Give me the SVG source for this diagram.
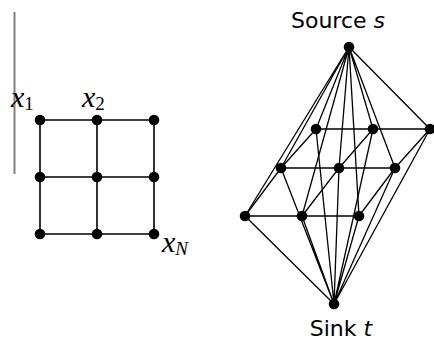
<svg xmlns="http://www.w3.org/2000/svg" width="434" height="340" viewBox="0 0 434 340">
<style>
.e{stroke:#000;stroke-width:1.3;fill:none}
.g{stroke:#000;stroke-width:1.6;fill:none}
.n{fill:#000}
.m{font-family:"Liberation Serif",serif;font-style:italic;font-size:30px;fill:#000}
.sub{font-size:19px;font-style:normal}
.subi{font-size:19px;font-style:italic}
.t{font-family:"DejaVu Sans",sans-serif;font-size:22px;fill:#000}
</style>
<rect width="434" height="340" fill="#fff"/>
<line x1="14.5" y1="12" x2="14.5" y2="174" stroke="#808080" stroke-width="2"/>
<g id="grid-edges">
<path class="g" d="M40,120H154M40,177H154M40,234H154M40,120V234M97,120V234M154,120V234"/>
</g>
<g id="g11"><circle class="n" cx="40" cy="120" r="5.3"/></g>
<g id="g12"><circle class="n" cx="97" cy="120" r="5.3"/></g>
<g id="g13"><circle class="n" cx="154" cy="120" r="5.3"/></g>
<g id="g21"><circle class="n" cx="40" cy="177" r="5.3"/></g>
<g id="g22"><circle class="n" cx="97" cy="177" r="5.3"/></g>
<g id="g23"><circle class="n" cx="154" cy="177" r="5.3"/></g>
<g id="g31"><circle class="n" cx="40" cy="234" r="5.3"/></g>
<g id="g32"><circle class="n" cx="97" cy="234" r="5.3"/></g>
<g id="g33"><circle class="n" cx="154" cy="234" r="5.3"/></g>
<text class="m" x="11" y="107">x<tspan class="sub" dy="3">1</tspan></text>
<text class="m" x="82" y="107">x<tspan class="sub" dy="3">2</tspan></text>
<text class="m" x="162" y="252">x<tspan class="subi" dy="3">N</tspan></text>
<g id="connectors">
<path class="e" d="M316,129H430M281,168H395M245,216H359M316,129L281,168L245,216M373,129L339,168L302,216M430,129L395,168L359,216"/>
<path class="e" d="M349,47L316,129M349,47L373,129M349,47L430,129M349,47L281,168M349,47L339,168M349,47L395,168M349,47L245,216M349,47L302,216M349,47L359,216"/>
<path class="e" d="M334,304L316,129M334,304L373,129M334,304L430,129M334,304L281,168M334,304L339,168M334,304L395,168M334,304L245,216M334,304L302,216M334,304L359,216"/>
</g>
<g id="s"><circle class="n" cx="349" cy="47" r="5.3"/><text class="t" x="338" y="28" text-anchor="middle">Source <tspan font-style="italic">s</tspan></text></g>
<g id="t"><circle class="n" cx="334" cy="304" r="5.3"/><text class="t" x="341" y="336" text-anchor="middle">Sink <tspan font-style="italic">t</tspan></text></g>
<g id="r11"><circle class="n" cx="316" cy="129" r="5.3"/></g>
<g id="r12"><circle class="n" cx="373" cy="129" r="5.3"/></g>
<g id="r13"><circle class="n" cx="430" cy="129" r="5.3"/></g>
<g id="r21"><circle class="n" cx="281" cy="168" r="5.3"/></g>
<g id="r22"><circle class="n" cx="339" cy="168" r="5.3"/></g>
<g id="r23"><circle class="n" cx="395" cy="168" r="5.3"/></g>
<g id="r31"><circle class="n" cx="245" cy="216" r="5.3"/></g>
<g id="r32"><circle class="n" cx="302" cy="216" r="5.3"/></g>
<g id="r33"><circle class="n" cx="359" cy="216" r="5.3"/></g>
</svg>
